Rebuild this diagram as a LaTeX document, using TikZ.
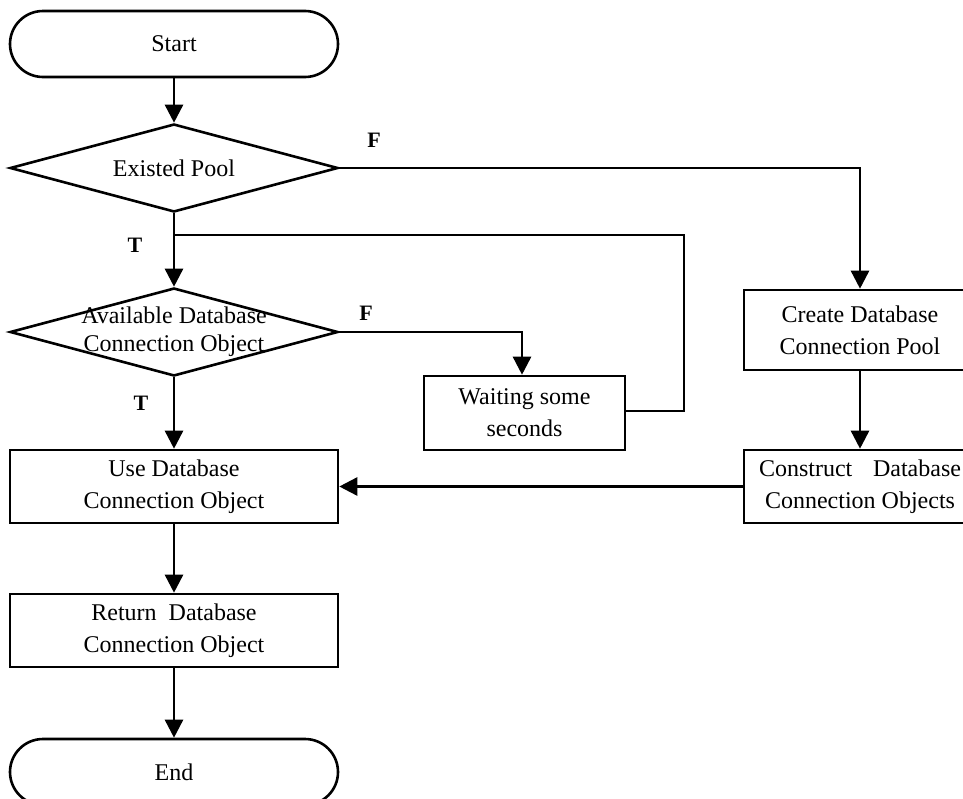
\documentclass[tikz,border=0pt]{standalone}
\usepackage{fontspec}
\setmainfont{Liberation Serif}
\usetikzlibrary{shapes.geometric,arrows.meta}
\begin{document}
\begin{tikzpicture}[x=1pt,y=-1pt,
  line width=2.6pt,
  every node/.style={font=\fontsize{24}{32}\selectfont, align=center},
  term/.style={draw, rectangle, rounded corners=33pt, minimum width=328pt, minimum height=66pt, inner sep=0pt},
  dec/.style={draw, diamond, minimum width=328pt, minimum height=88pt, inner sep=0pt},
  proc/.style={draw, rectangle, inner sep=0pt},
  lbl/.style={font=\fontsize{22}{22}\bfseries\selectfont},
  arr/.style={-{Triangle[length=18pt,width=18pt]}}
]
\useasboundingbox (0,0) rectangle (963,798);
\begin{scope}
\clip (0,0) rectangle (963,798);
\node[term] (start) at (174,44) {Start};
\node[dec] (d1) at (174,168) {};
\node (d1t) at (174,168) {Existed Pool};
\node[dec] (d2) at (174,332) {};
\node (d2t) at (174,332) {Available Database\\[-4pt]Connection Object};
\node[proc, minimum width=201pt, minimum height=74pt] (wait) at (524.5,413) {Waiting some\\seconds};
\node[proc, minimum width=328pt, minimum height=73pt] (use) at (174,486.5) {Use Database\\Connection Object};
\node[proc, minimum width=328pt, minimum height=73pt] (ret) at (174,630.5) {Return~~Database\\Connection Object};
\node[term] (end) at (174,772) {End};
\node[proc, minimum width=232pt, minimum height=80pt] (create) at (860,330) {Create Database\\Connection Pool};
\node[proc, minimum width=232pt, minimum height=73pt] (cons) at (860,486.5) {\makebox[202pt][s]{Construct Database}\\Connection Objects};

\coordinate (j1) at (174,235);
\coordinate (c1) at (860,168);
\coordinate (c2) at (684,235);
\coordinate (c3) at (684,411);
\coordinate (c4) at (522,332);

\draw[arr] (start.south) -- (d1.north);
\draw[arr] (d1.south) -- (d2.north);
\draw[arr] (d1.east) -- (c1) -- (create.north);
\draw (j1) -- (c2) -- (c3) -- (wait.east |- c3);
\draw[arr] (d2.east) -- (c4) -- (c4 |- wait.north);
\draw[arr] (d2.south) -- (use.north);
\draw[arr] (create.south) -- (cons.north);
\draw[arr] (cons.west) -- (use.east);
\draw[arr] (use.south) -- (ret.north);
\draw[arr] (ret.south) -- (end.north);

\node[lbl] (f1) at (374,140) {F};
\node[lbl] (f2) at (366,313) {F};
\node[lbl] (t1) at (135,245) {T};
\node[lbl] (t2) at (141,403) {T};
\end{scope}
\end{tikzpicture}
\end{document}
